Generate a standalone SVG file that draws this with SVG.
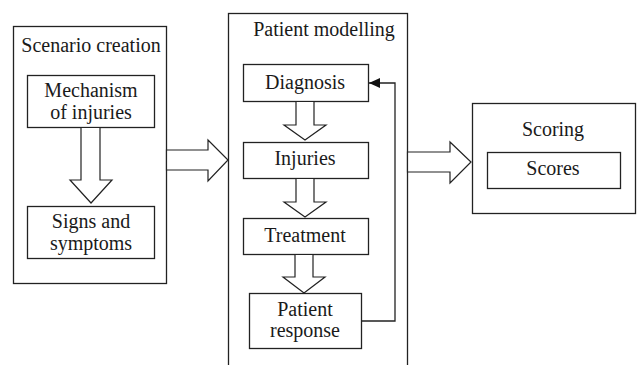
<svg xmlns="http://www.w3.org/2000/svg" width="637" height="365" viewBox="0 0 637 365">
<style>
.box{fill:#fff;stroke:#222;stroke-width:1.3}
.blk{fill:#fff;stroke:#222;stroke-width:1.2;stroke-linejoin:miter}
.line{fill:none;stroke:#222;stroke-width:1.3}
text{font-family:'Times New Roman',Times,'Liberation Serif','Noto Serif','DejaVu Serif',FreeSerif,serif;font-size:20px;fill:#1a1a1a;text-anchor:middle}
</style>
<defs>
<marker id="ah" markerWidth="12" markerHeight="10" refX="11" refY="5" orient="auto" markerUnits="userSpaceOnUse">
<path d="M0,0 L11,5 L0,10 Z" fill="#111"/>
</marker>
</defs>
<rect width="637" height="365" fill="#fff"/>
<g id="scenario">
<rect class="box" x="13.5" y="26.5" width="153" height="257"/>
<text x="91" y="52">Scenario creation</text>
</g>
<g id="mechanism">
<rect class="box" x="27.5" y="75.5" width="127" height="52"/>
<text x="91" y="97">Mechanism</text>
<text x="91" y="119">of injuries</text>
</g>
<g id="signs">
<rect class="box" x="27.5" y="206.5" width="127" height="52"/>
<text x="91" y="228">Signs and</text>
<text x="91" y="250">symptoms</text>
</g>
<g id="patient">
<rect class="box" x="228.5" y="13.5" width="179" height="360"/>
<text x="324" y="36">Patient modelling</text>
</g>
<g id="diagnosis">
<rect class="box" x="243.5" y="64.5" width="125" height="37"/>
<text x="305" y="89">Diagnosis</text>
</g>
<g id="injuries">
<rect class="box" x="243.5" y="142.5" width="125" height="36"/>
<text x="305" y="165">Injuries</text>
</g>
<g id="treatment">
<rect class="box" x="243.5" y="218.5" width="125" height="36"/>
<text x="305" y="242">Treatment</text>
</g>
<g id="response">
<rect class="box" x="249.5" y="293.5" width="112" height="55"/>
<text x="305" y="316">Patient</text>
<text x="305" y="337">response</text>
</g>
<g id="scoring">
<rect class="box" x="472.5" y="103.5" width="163" height="110"/>
<text x="553" y="136">Scoring</text>
</g>
<g id="scores">
<rect class="box" x="487.5" y="152.5" width="133" height="36"/>
<text x="553" y="175">Scores</text>
</g>
<g id="connectors">
<polygon class="blk" points="81,127.5 81,180 70,180 91,203 112,180 100,180 100,127.5"/>
<polygon class="blk" points="296,101.5 296,125 284,125 305,140 326,125 314,125 314,101.5"/>
<polygon class="blk" points="296,178.5 296,202 284,202 305,217 326,202 314,202 314,178.5"/>
<polygon class="blk" points="295,254.5 295,277 283,277 304,293 325,277 313,277 313,254.5"/>
<polygon class="blk" points="166.5,150 208,150 208,140 228,160 208,181 208,170 166.5,170"/>
<polygon class="blk" points="407.5,152 450,152 450,142 471,162 450,183 450,172 407.5,172"/>
<polyline class="line" points="361.5,321 395,321 395,83 369,83" marker-end="url(#ah)"/>
</g>
</svg>
